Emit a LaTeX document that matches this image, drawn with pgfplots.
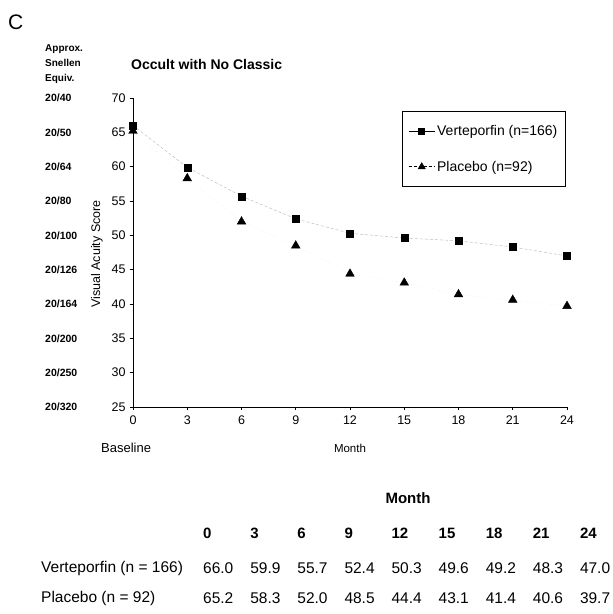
\documentclass[border=0pt]{standalone}
\usepackage{pgfplots}
\pgfplotsset{compat=1.18}
\usepackage{pgfplotstable}
\usepackage{fontspec}
\setmainfont{Liberation Sans}
\pgfplotstableread{
month vert plac
0  66.0 65.2
3  59.9 58.3
6  55.7 52.0
9  52.4 48.5
12 50.3 44.4
15 49.6 43.1
18 49.2 41.4
21 48.3 40.6
24 47.0 39.7
}\datatab
\begin{document}
\begin{tikzpicture}[x=1pt,y=1pt]
\path (0,0) rectangle (613,-614);
% panel letter and headings
\node[anchor=west,inner sep=0,font=\fontsize{21}{24}\selectfont] at (8,-22) {C};
\node[anchor=north west,inner sep=0,align=left,font=\bfseries\fontsize{10}{15}\selectfont] at (45,-44) {Approx.\\Snellen\\Equiv.};
\node[anchor=west,inner sep=0,font=\bfseries\fontsize{14}{16}\selectfont] at (131,-64) {Occult with No Classic};
\node[rotate=90,inner sep=0,font=\fontsize{12.5}{14}\selectfont] at (97,-254) {Visual Acuity Score};
\node[anchor=west,inner sep=0,font=\fontsize{13}{15}\selectfont] at (101,-448) {Baseline};
\node[inner sep=0,font=\fontsize{11.5}{13}\selectfont] at (350,-448) {Month};
\begin{axis}[
  at={(133pt,-407pt)}, anchor=south west,
  scale only axis, width=434pt, height=309pt,
  xmin=0, xmax=24, ymin=25, ymax=70,
  xtick={0,3,...,24}, ytick={25,30,...,70},
  axis x line*=bottom, axis y line*=left,
  axis line style={line width=0.9pt,-},
  tick style={black,line width=0.6pt},
  major tick length=3pt, tick align=outside,
  ticklabel style={font=\fontsize{12.5}{14}\selectfont},
  xticklabel style={yshift=-2pt},
  yticklabel style={xshift=-1pt},
  /pgf/number format/assume math mode=true,
  clip=false,
  legend style={at={(rel axis cs:0.997,0.958)}, anchor=north east,
    draw=black, line width=0.6pt, inner xsep=6pt, inner ysep=12pt,
    row sep=20pt, font=\fontsize{14}{16}\selectfont},
  legend cell align=left,
  legend image code/.code={\draw[mark repeat=2,mark phase=2] plot coordinates {(0pt,0pt)(13pt,0pt)(26pt,0pt)};},
]
\addplot[black!25, line width=0.5pt, densely dashed, forget plot] table[x=month,y=vert]{\datatab};
\addplot[black!12, line width=0.4pt, dotted, forget plot] table[x=month,y=plac]{\datatab};
\addplot[only marks, mark=square*, mark size=3.5pt, black, forget plot] table[x=month,y=vert]{\datatab};
\addplot[only marks, mark=triangle*, mark size=5pt, black, forget plot] table[x=month,y=plac]{\datatab};
\addlegendimage{black, line width=0.8pt, mark=square*, mark size=3pt}
\addlegendentry{Verteporfin (n=166)}
\addlegendimage{black, line width=0.6pt, densely dashed, mark=triangle*, mark size=4pt, mark options={solid}}
\addlegendentry{Placebo (n=92)}
% Snellen equivalents
\foreach \v/\s in {70/20\slash 40,65/20\slash 50,60/20\slash 64,55/20\slash 80,50/20\slash 100,45/20\slash 126,40/20\slash 164,35/20\slash 200,30/20\slash 250,25/20\slash 320}{
  \edef\tmp{\noexpand\node[anchor=west,inner sep=0,xshift=-88pt,font=\noexpand\bfseries\noexpand\fontsize{10.5}{12}\noexpand\selectfont] at (axis cs:0,\v) {\s};}
  \tmp
}
\end{axis}
% table below
\node[inner sep=0,font=\bfseries\fontsize{15}{17}\selectfont] at (408,-498) {Month};
\foreach \m [count=\i from 0] in {0,3,6,9,12,15,18,21,24}{
  \node[anchor=west,inner sep=0,font=\bfseries\fontsize{15}{17}\selectfont] at (203+47.1*\i,-533) {\m};
}
\node[anchor=west,inner sep=0,font=\fontsize{15.5}{17}\selectfont] at (41,-568) {Verteporfin (n = 166)};
\node[anchor=west,inner sep=0,font=\fontsize{15.5}{17}\selectfont] at (41,-598) {Placebo (n = 92)};
\foreach \a [count=\i from 0] in {66.0,59.9,55.7,52.4,50.3,49.6,49.2,48.3,47.0}{
  \node[anchor=west,inner sep=0,font=\fontsize{15.5}{17}\selectfont] at (203+47.1*\i,-568) {\a};
}
\foreach \a [count=\i from 0] in {65.2,58.3,52.0,48.5,44.4,43.1,41.4,40.6,39.7}{
  \node[anchor=west,inner sep=0,font=\fontsize{15.5}{17}\selectfont] at (203+47.1*\i,-598) {\a};
}
\end{tikzpicture}
\end{document}
